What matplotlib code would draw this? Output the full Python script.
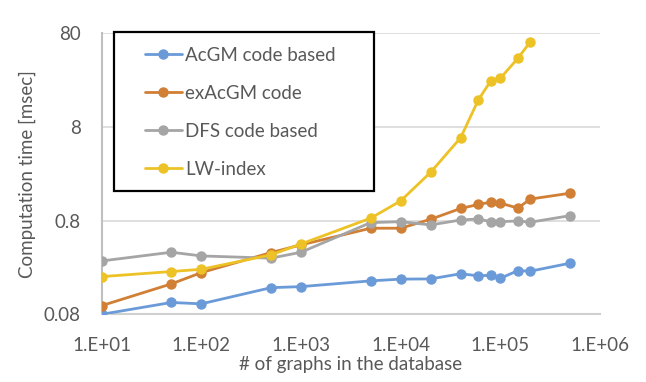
import matplotlib
matplotlib.use("Agg")
import matplotlib.pyplot as plt
from matplotlib.patches import Rectangle
from matplotlib.ticker import FixedLocator, NullLocator

plt.rcParams['font.family'] = ['Lato', 'DejaVu Sans']

x_all = [10, 50, 100, 500, 1000, 5000, 10000, 20000, 40000, 60000, 80000,
         100000, 150000, 200000, 500000]
x_lw = x_all[:-1]

acgm = [0.080, 0.107, 0.1035, 0.154, 0.158, 0.182, 0.190, 0.191, 0.217,
        0.206, 0.209, 0.194, 0.234, 0.231, 0.281]
exacgm = [0.099, 0.169, 0.223, 0.365, 0.441, 0.664, 0.664, 0.828, 1.08,
          1.19, 1.26, 1.23, 1.09, 1.36, 1.57]
dfs = [0.297, 0.368, 0.336, 0.318, 0.368, 0.762, 0.78, 0.72, 0.813,
       0.834, 0.78, 0.78, 0.794, 0.77, 0.904]
lw = [0.202, 0.229, 0.242, 0.345, 0.451, 0.850, 1.30, 2.63, 6.15,
      15.5, 24.8, 26.5, 43.3, 65.0]

series_names = ["AcGM code based", "exAcGM code", "DFS code based", "LW-index"]
colors = ["#6A9BD8", "#D07F35", "#A5A5A5", "#EDC226"]

xticks = [1e1, 1e2, 1e3, 1e4, 1e5, 1e6]
xtick_labels = ["1.E+01", "1.E+02", "1.E+03", "1.E+04", "1.E+05", "1.E+06"]
yticks = [0.08, 0.8, 8, 80]
ytick_labels = ["0.08", "0.8", "8", "80"]

fig = plt.figure(figsize=(6.46, 3.82), dpi=100)
ax = fig.add_axes([0.1574, 0.1772, 0.7714, 0.7356])

data = [(x_all, acgm), (x_all, exacgm), (x_all, dfs), (x_lw, lw)]
handles = []
for (xs, ys), name, c in zip(data, series_names, colors):
    h, = ax.plot(xs, ys, color=c, lw=2.0, marker='o', ms=6.5, label=name,
                 solid_capstyle='round', zorder=3)
    handles.append(h)

ax.set_xscale('log')
ax.set_yscale('log')
ax.set_xlim(10, 1e6)
ax.set_ylim(0.08, 80)
ax.xaxis.set_major_locator(FixedLocator(xticks))
ax.xaxis.set_minor_locator(NullLocator())
ax.set_xticklabels(xtick_labels)
ax.yaxis.set_major_locator(FixedLocator(yticks))
ax.yaxis.set_minor_locator(NullLocator())
ax.set_yticklabels(ytick_labels)

tc = '#595959'
fs = 13.5
ax.tick_params(axis='both', length=0, labelsize=fs, colors=tc)
ax.tick_params(axis='x', pad=16)
ax.tick_params(axis='y', pad=15)
ax.grid(axis='y', color='#D9D9D9', lw=1.2)
ax.grid(axis='x', visible=False)
for s in ['top', 'right']:
    ax.spines[s].set_visible(False)
ax.spines['left'].set_color('#BFBFBF')
ax.spines['left'].set_linewidth(1.5)
ax.spines['bottom'].set_color('#D0D0D0')
ax.spines['bottom'].set_linewidth(1.5)

ax.set_xlabel("# of graphs in the database", fontsize=fs, color=tc, labelpad=2)
ax.set_ylabel("Computation time [msec]", fontsize=fs, color=tc, labelpad=6)

# legend box
rect = Rectangle((0.0253, 0.44), 0.5212, 0.5636, transform=ax.transAxes,
                 facecolor='white', edgecolor='black', lw=1.6, zorder=4,
                 clip_on=False)
ax.add_patch(rect)
leg = ax.legend(handles=handles, loc='upper left',
                bbox_to_anchor=(0.075, 0.972), frameon=False, fontsize=fs,
                handlelength=2.0, handletextpad=0.15, labelspacing=1.12,
                borderpad=0.3, borderaxespad=0.0)
for t in leg.get_texts():
    t.set_color(tc)
leg.set_zorder(5)

fig.savefig("out.png", dpi=100, facecolor='white')
